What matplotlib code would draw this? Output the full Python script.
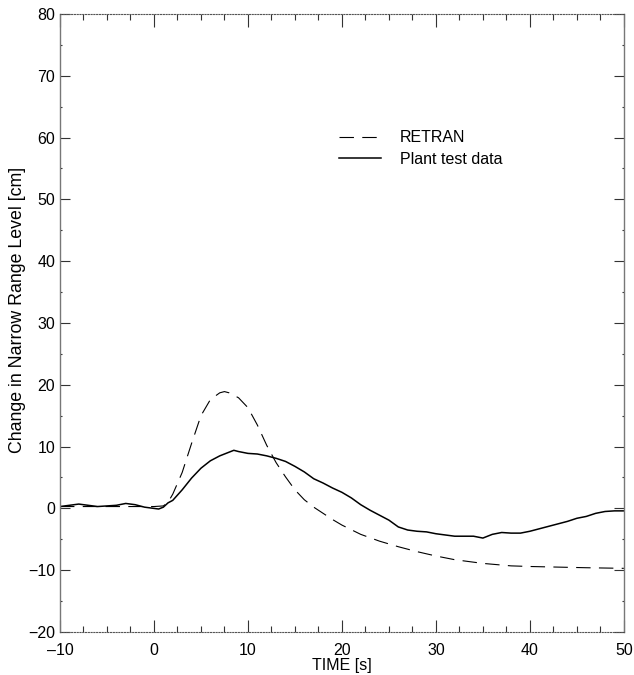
import matplotlib
matplotlib.use('Agg')
import matplotlib.pyplot as plt
from matplotlib.ticker import MultipleLocator

plt.rcParams['font.family'] = ['Liberation Sans', 'DejaVu Sans']

# Plant test data
plant_t = [-10, -9, -8, -7, -6, -5, -4, -3, -2, -1, -0.5, 0, 0.5, 1, 1.5, 2, 3, 4, 5, 6,
           7, 8, 8.5, 9, 10, 11, 12, 13, 14, 15, 16, 17, 18, 19, 20, 21, 22, 23, 24, 25,
           26, 27, 28, 29, 30, 31, 32, 33, 34, 35, 36, 37, 38, 39, 40, 41, 42, 43, 44, 45,
           46, 47, 48, 49, 50]
plant_level = [0.3, 0.5, 0.7, 0.5, 0.3, 0.4, 0.5, 0.8, 0.6, 0.2, 0.1, 0.0, -0.1, 0.2, 0.9, 1.3,
               3.0, 4.9, 6.5, 7.7, 8.5, 9.1, 9.4, 9.2, 8.9, 8.8, 8.5, 8.1, 7.6, 6.8, 5.9, 4.8,
               4.1, 3.3, 2.6, 1.7, 0.6, -0.3, -1.1, -1.9, -3.0, -3.5, -3.7, -3.8, -4.1, -4.3,
               -4.5, -4.5, -4.5, -4.8, -4.2, -3.9, -4.0, -4.0, -3.7, -3.3, -2.9, -2.5, -2.1,
               -1.6, -1.3, -0.8, -0.5, -0.4, -0.4]

# RETRAN calculation
retran_t = [-10, -5, 0, 1, 1.5, 2, 3, 4, 5, 6, 7, 7.5, 8, 9, 10, 11, 12, 13, 14, 15, 16,
            17, 18, 19, 20, 22, 24, 26, 28, 30, 32, 35, 38, 40, 43, 46, 50]
retran_level = [0.3, 0.3, 0.3, 0.4, 1.0, 2.3, 5.8, 10.5, 15.0, 17.6, 18.7, 18.9, 18.7, 17.9,
                16.3, 13.5, 10.2, 7.4, 5.1, 3.0, 1.4, 0.2, -0.8, -1.8, -2.7, -4.2, -5.3, -6.2,
                -7.0, -7.7, -8.3, -8.9, -9.3, -9.4, -9.5, -9.6, -9.7]

fig = plt.figure(figsize=(6.34, 6.75), dpi=100)
ax = fig.add_axes([0.0946, 0.0637, 0.8894, 0.9156])

ax.plot(retran_t, retran_level, color='black', lw=0.8, dashes=(13, 7.5), label='RETRAN')
ax.plot(plant_t, plant_level, color='black', lw=1.1, label='Plant test data')

ax.set_xlim(-10, 50)
ax.set_ylim(-20, 80)
ax.xaxis.set_major_locator(MultipleLocator(10))
ax.xaxis.set_minor_locator(MultipleLocator(2.5))
ax.yaxis.set_major_locator(MultipleLocator(10))
ax.yaxis.set_minor_locator(MultipleLocator(5))
ax.xaxis.set_major_formatter(plt.FuncFormatter(lambda v, p: '%d' % v if v >= 0 else '\u2013%d' % -v))

ax.tick_params(axis='x', which='both', direction='in', top=True, bottom=True,
               labelsize=11.5, color='#333333', width=0.8, pad=8)
ax.tick_params(axis='x', which='major', length=9)
ax.tick_params(axis='x', which='minor', length=4.5)
ax.tick_params(axis='y', which='both', direction='in', left=True, right=True,
               labelsize=11.5, color='#333333', width=0.8)
ax.tick_params(axis='y', which='major', length=7.5)
ax.tick_params(axis='y', which='minor', length=1.5)

for side in ['left', 'right']:
    ax.spines[side].set_color('#777777')
    ax.spines[side].set_linewidth(1.0)
for side in ['top', 'bottom']:
    ax.spines[side].set_color('#555555')
    ax.spines[side].set_linestyle((0, (1, 1.5)))
    ax.spines[side].set_linewidth(0.8)

ax.set_xlabel('TIME [s]', fontsize=11.5, labelpad=0)
ax.set_ylabel('Change in Narrow Range Level [cm]', fontsize=12.8)
ax.yaxis.set_label_coords(-0.061, 0.521)

ax.legend(loc='upper left', bbox_to_anchor=(0.47, 0.835), frameon=False, fontsize=11.5,
          handlelength=2.6, handletextpad=1.2, labelspacing=0.4)

fig.savefig('out.png', dpi=100)
